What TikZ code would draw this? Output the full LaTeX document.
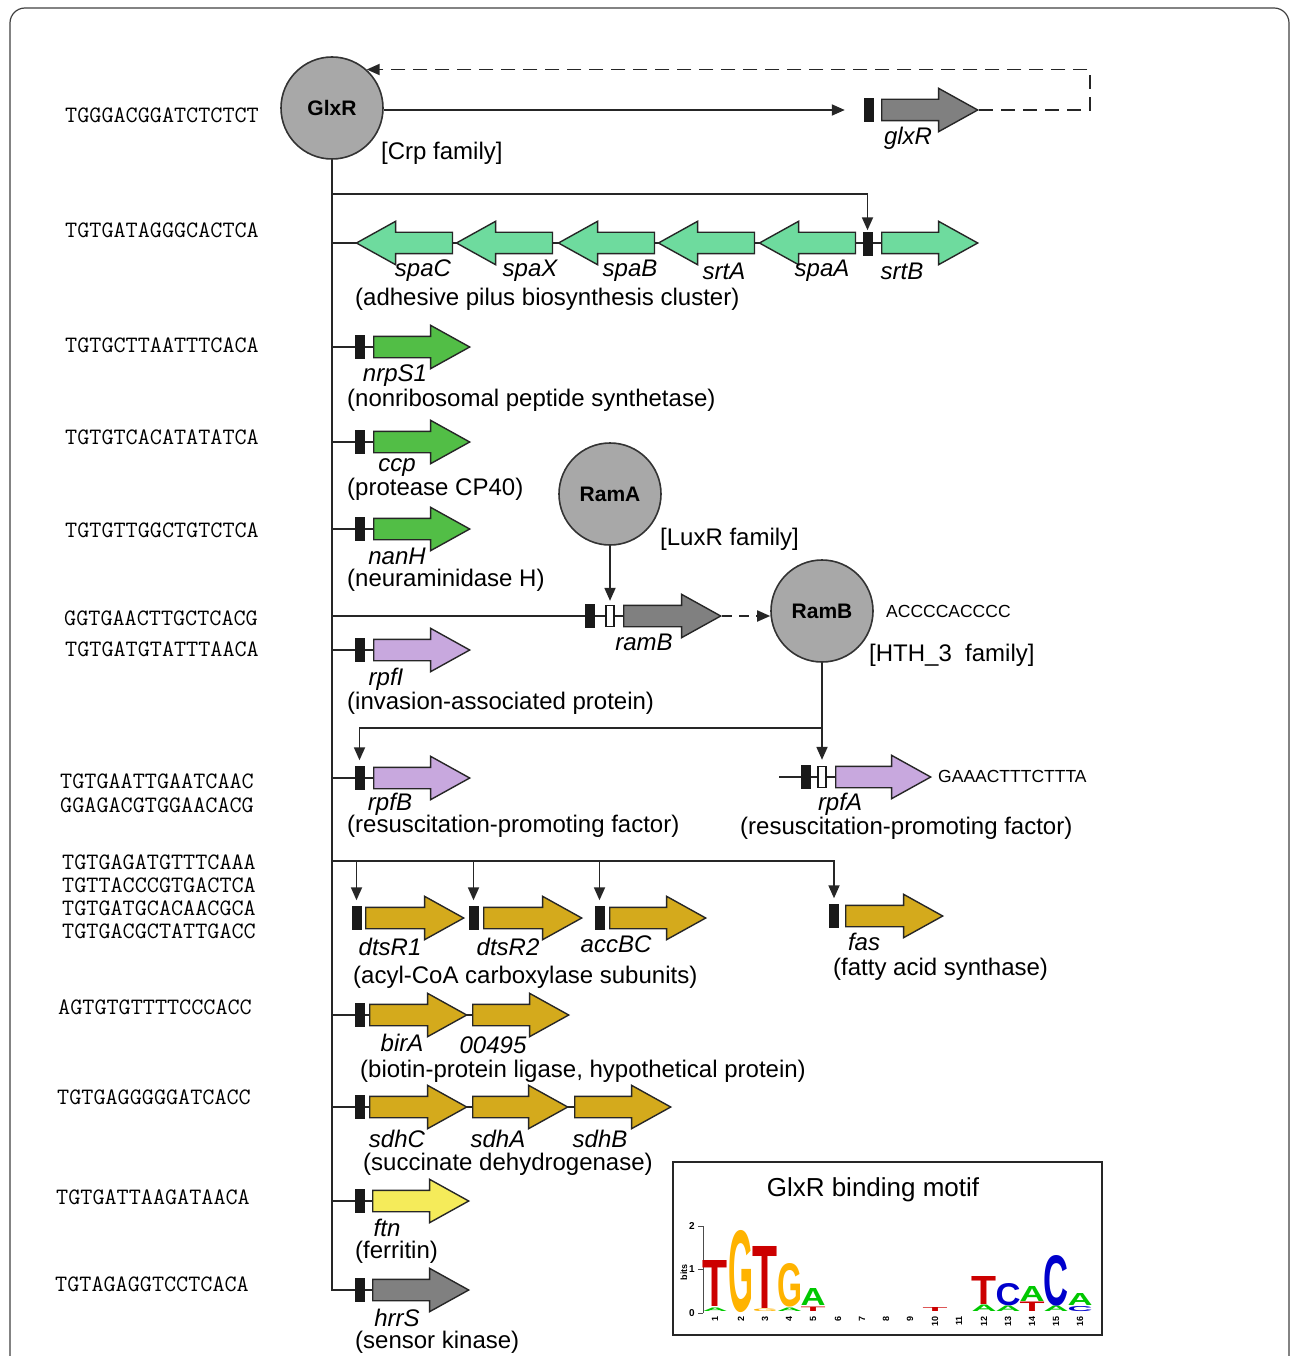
\documentclass[tikz,border=0pt]{standalone}
\usepackage{fontspec}
\setmainfont{Liberation Sans}
\usepackage{graphicx}
\usetikzlibrary{shapes.arrows,arrows.meta}
\pgfdeclarelayer{bg}
\pgfsetlayers{bg,main}
\definecolor{tfgray}{RGB}{168,168,168}
\definecolor{ggray}{RGB}{128,128,128}
\definecolor{mint}{RGB}{110,219,158}
\definecolor{lgreen}{RGB}{82,190,70}
\definecolor{purp}{RGB}{200,168,222}
\definecolor{gold}{RGB}{212,170,28}
\definecolor{yell}{RGB}{245,235,90}
\definecolor{lred}{RGB}{204,0,0}
\definecolor{lorange}{RGB}{255,179,0}
\definecolor{lgrn}{RGB}{0,200,0}
\definecolor{lblue}{RGB}{0,0,204}
\newcommand\logoL[6]{\node[inner sep=0pt,anchor=south,text=#6] (#1) at (#2,#3) {\resizebox{25pt}{#4pt}{\bfseries #5}};}
\begin{document}
\begin{tikzpicture}[x=1pt,y=-1pt,
  every node/.style={inner sep=0pt},
  lab/.style={font=\fontsize{24}{28}\selectfont},
  glab/.style={font=\fontsize{24}{28}\selectfont\itshape},
  seqt/.style={font=\fontsize{23.5}{26}\selectfont\ttfamily, anchor=west},
  sseq/.style={font=\fontsize{17.5}{20}\selectfont, anchor=west},
  tf/.style={circle, draw=black!80, line width=1.6pt, fill=tfgray, minimum size=102pt, font=\fontsize{21}{24}\selectfont\bfseries},
  gene/.style={single arrow, draw=black!85, line width=1.4pt, inner xsep=0pt, inner ysep=10pt, single arrow head extend=11pt, single arrow tip angle=58, minimum height=96pt, anchor=tail},
  lgene/.style={gene, shape border rotate=180, anchor=tip},
  pbox/.style={draw=black!90, fill=black!90, minimum width=9pt, minimum height=23pt},
  wbox/.style={draw=black!90, fill=white, line width=1.3pt, minimum width=8pt, minimum height=21pt},
  wire/.style={line width=1.8pt, draw=black!85},
  conn/.style={wire, -{Triangle[length=13pt,width=11pt]}},
  dconn/.style={conn, dash pattern=on 14pt off 8pt},
  frame/.style={line width=1.2pt, draw=black!75, rounded corners=15pt}
]
\useasboundingbox (0,0) rectangle (1290,1356);
\draw[frame] (10,1356) -- (10,8) -- (1289,8) -- (1289,1356);

% ---------------- GlxR ----------------
\node[tf] (glxr) at (332,108) {GlxR};
\node[lab,anchor=west] (crp) at (381,153) {[Crp family]};
\node[pbox] (glxRbox) at (868.5,110) {};
\node[gene, fill=ggray] (glxRgene) at (881,110) {};
\node[glab] (glxRlab) at (908,138) {glxR};
\coordinate (fb) at (1090,110);
\draw[conn, shorten >=19pt] (glxr.east |- glxRbox) -- (glxRbox.west);
\draw[dconn] (glxRgene.tip) -- (fb) |- (glxr.48);

% trunk
\node[pbox] (hrrSbox) at (359.5,1290) {};
\draw[wire] (glxr.south) |- (hrrSbox.west);

% ---------------- spa cluster ----------------
\node[pbox] (srtBbox) at (867.5,244) {};
\node[gene, fill=mint] (srtB) at (881,243) {};
\node[lgene, fill=mint] (spaA) at (758,243) {};
\node[lgene, fill=mint] (srtA) at (657,243) {};
\node[lgene, fill=mint] (spaB) at (557,243) {};
\node[lgene, fill=mint] (spaX) at (455,243) {};
\node[lgene, fill=mint] (spaC) at (355,243) {};
\begin{pgfonlayer}{bg}
\draw[wire] (glxr.south |- spaC) -- (srtB.tail);
\end{pgfonlayer}
\coordinate (b1) at (332,194);
\draw[conn, shorten >=2pt] (b1) -| (srtBbox.north);
\node[glab] (l-spaC) at (423,271) {spaC};
\node[glab] (l-spaX) at (530,271) {spaX};
\node[glab] (l-spaB) at (630,271) {spaB};
\node[glab] (l-srtA) at (724,271) {srtA};
\node[glab] (l-spaA) at (822,271) {spaA};
\node[glab] (l-srtB) at (902,271) {srtB};
\node[lab,anchor=west] (d-spa) at (355,299) {(adhesive pilus biosynthesis cluster)};

% ---------------- nrpS1 / ccp / nanH ----------------
\node[pbox] (nrpbox) at (359.5,347) {};
\node[gene, fill=lgreen] (nrpS1) at (373,347) {};
\node[pbox] (ccpbox) at (359.5,442) {};
\node[gene, fill=lgreen] (ccp) at (373,442) {};
\node[pbox] (nanbox) at (359.5,529) {};
\node[gene, fill=lgreen] (nanH) at (373,529) {};
\begin{pgfonlayer}{bg}
\draw[wire] (glxr.south |- nrpbox) -- (nrpS1.tail);
\draw[wire] (glxr.south |- ccpbox) -- (ccp.tail);
\draw[wire] (glxr.south |- nanbox) -- (nanH.tail);
\end{pgfonlayer}
\node[glab] (l-nrp) at (395,376) {nrpS1};
\node[lab,anchor=west] (d-nrp) at (347,400) {(nonribosomal peptide synthetase)};
\node[glab] (l-ccp) at (397,468) {ccp};
\node[lab,anchor=west] (d-ccp) at (347,489) {(protease CP40)};
\node[glab] (l-nan) at (397,556) {nanH};
\node[lab,anchor=west] (d-nan) at (347,580) {(neuraminidase H)};

% ---------------- RamA / ramB / RamB ----------------
\node[pbox] (rambbox) at (590,616) {};
\node[wbox] (rambw) at (610,616) {};
\node[gene, fill=ggray, minimum height=97pt] (rambgene) at (623,616) {};
\begin{pgfonlayer}{bg}
\draw[wire] (glxr.south |- rambbox) -- (rambgene.tail);
\end{pgfonlayer}
\node[glab] (l-ramb) at (644,642) {ramB};
\node[tf] (rama) at (610,494) {RamA};
\node[lab,anchor=west] (luxr) at (660,539) {[LuxR family]};
\draw[conn, shorten >=4pt] (rama.south) -- (rambw.north);
\node[tf] (ramb) at (822,611) {RamB};
\node[sseq] (s-ramb) at (886,611) {ACCCCACCCC};
\node[lab,anchor=west] (hth) at (869,655) {[HTH\_3\ \ family]};
\draw[conn, dash pattern=on 10pt off 7pt] (rambgene.tip) -- (rambgene.tip -| ramb.west);

% ---------------- rpfI ----------------
\node[pbox] (rpfIbox) at (359.5,650) {};
\node[gene, fill=purp] (rpfI) at (373,650) {};
\begin{pgfonlayer}{bg}
\draw[wire] (glxr.south |- rpfIbox) -- (rpfI.tail);
\end{pgfonlayer}
\node[glab] (l-rpfI) at (386,679) {rpfI};
\node[lab,anchor=west] (d-rpfI) at (347,703) {(invasion-associated protein)};

% ---------------- rpfB / rpfA ----------------
\node[pbox] (rpfBbox) at (359.5,778) {};
\node[gene, fill=purp] (rpfB) at (373,778) {};
\begin{pgfonlayer}{bg}
\draw[wire] (glxr.south |- rpfBbox) -- (rpfB.tail);
\end{pgfonlayer}
\node[glab] (l-rpfB) at (390,804) {rpfB};
\node[lab,anchor=west] (d-rpfB) at (347,826) {(resuscitation-promoting factor)};

\node[pbox] (rpfAbox) at (805.5,777) {};
\node[wbox] (rpfAw) at (822,777) {};
\node[gene, fill=purp, minimum height=95pt] (rpfA) at (835,777) {};
\coordinate (rpfAstart) at (779,777);
\begin{pgfonlayer}{bg}
\draw[wire] (rpfAstart) -- (rpfA.tail);
\end{pgfonlayer}
\node[sseq] (s-rpfA) at (938,776) {GAAACTTTCTTTA};
\node[glab] (l-rpfA) at (840,804) {rpfA};
\node[lab,anchor=west] (d-rpfA) at (740,828) {(resuscitation-promoting factor)};
\draw[conn, shorten >=6pt] (ramb.south) -- (rpfAw.north);
\coordinate (rbj) at (822,728);
\draw[conn, shorten >=6pt] (rbj) -| (rpfBbox.north);

% ---------------- dtsR1 / dtsR2 / accBC / fas ----------------
\node[pbox] (dts1box) at (356.5,918) {};
\node[gene, fill=gold, minimum height=98pt] (dtsR1) at (365,918) {};
\node[pbox] (dts2box) at (473.5,918) {};
\node[gene, fill=gold, minimum height=98pt] (dtsR2) at (483,918) {};
\node[pbox] (accbox) at (599.5,918) {};
\node[gene, fill=gold] (accBC) at (609,918) {};
\node[pbox] (fasbox) at (834,916) {};
\node[gene, fill=gold, minimum height=97pt] (fas) at (845,916) {};
\coordinate (b3) at (332,861);
\draw[conn, shorten >=6pt] (b3) -| (fasbox.north);
\draw[conn, shorten >=6pt] (dts1box.north |- b3) -- (dts1box.north);
\draw[conn, shorten >=6pt] (dts2box.north |- b3) -- (dts2box.north);
\draw[conn, shorten >=6pt] (accbox.north |- b3) -- (accbox.north);
\node[glab] (l-dts1) at (390,947) {dtsR1};
\node[glab] (l-dts2) at (508,947) {dtsR2};
\node[glab] (l-acc) at (616,944) {accBC};
\node[lab,anchor=west] (d-acc) at (353,977) {(acyl-CoA carboxylase subunits)};
\node[glab] (l-fas) at (864,942) {fas};
\node[lab,anchor=west] (d-fas) at (833,969) {(fatty acid synthase)};

% ---------------- birA / 00495 ----------------
\node[pbox] (birbox) at (359.5,1015) {};
\node[gene, fill=gold, minimum height=97pt] (birA) at (369,1015) {};
\node[gene, fill=gold] (g495) at (472,1015) {};
\begin{pgfonlayer}{bg}
\draw[wire] (glxr.south |- birbox) -- (g495.tail);
\end{pgfonlayer}
\node[glab] (l-bir) at (402,1043) {birA};
\node[glab] (l-495) at (493,1045) {00495};
\node[lab,anchor=west] (d-bir) at (360,1071) {(biotin-protein ligase, hypothetical protein)};

% ---------------- sdh ----------------
\node[pbox] (sdhbox) at (359.5,1107) {};
\node[gene, fill=gold, minimum height=97pt] (sdhC) at (369,1107) {};
\node[gene, fill=gold, minimum height=95pt] (sdhA) at (472,1107) {};
\node[gene, fill=gold] (sdhB) at (574,1107) {};
\begin{pgfonlayer}{bg}
\draw[wire] (glxr.south |- sdhbox) -- (sdhB.tail);
\end{pgfonlayer}
\node[glab] (l-sdhC) at (397,1139) {sdhC};
\node[glab] (l-sdhA) at (498,1139) {sdhA};
\node[glab] (l-sdhB) at (600,1139) {sdhB};
\node[lab,anchor=west] (d-sdh) at (363,1164) {(succinate dehydrogenase)};

% ---------------- ftn / hrrS ----------------
\node[pbox] (ftnbox) at (359.5,1201) {};
\node[gene, fill=yell] (ftn) at (372,1201) {};
\begin{pgfonlayer}{bg}
\draw[wire] (glxr.south |- ftnbox) -- (ftn.tail);
\end{pgfonlayer}
\node[glab] (l-ftn) at (387,1228) {ftn};
\node[lab,anchor=west] (d-ftn) at (355,1252) {(ferritin)};
\node[gene, fill=ggray] (hrrS) at (372,1290) {};
\begin{pgfonlayer}{bg}
\draw[wire] (hrrSbox.east) -- (hrrS.tail);
\end{pgfonlayer}
\node[glab] (l-hrrS) at (397,1318) {hrrS};
\node[lab,anchor=west] (d-hrrS) at (355,1342) {(sensor kinase)};

% ---------------- sequences ----------------
\node[seqt] (s1) at (65,115) {TGGGACGGATCTCTCT};
\node[seqt] (s2) at (65,230) {TGTGATAGGGCACTCA};
\node[seqt] (s3) at (65,345) {TGTGCTTAATTTCACA};
\node[seqt] (s4) at (65,437) {TGTGTCACATATATCA};
\node[seqt] (s5) at (65,530) {TGTGTTGGCTGTCTCA};
\node[seqt] (s6) at (64,618) {GGTGAACTTGCTCACG};
\node[seqt] (s7) at (65,649) {TGTGATGTATTTAACA};
\node[seqt] (s8) at (60,781) {TGTGAATTGAATCAAC};
\node[seqt] (s9) at (60,805) {GGAGACGTGGAACACG};
\node[seqt] (s10) at (62,862) {TGTGAGATGTTTCAAA};
\node[seqt] (s11) at (62,885) {TGTTACCCGTGACTCA};
\node[seqt] (s12) at (62,908) {TGTGATGCACAACGCA};
\node[seqt] (s13) at (62,931) {TGTGACGCTATTGACC};
\node[seqt] (s14) at (58,1007) {AGTGTGTTTTCCCACC};
\node[seqt] (s15) at (57,1097) {TGTGAGGGGGATCACC};
\node[seqt] (s16) at (56,1197) {TGTGATTAAGATAACA};
\node[seqt] (s17) at (55,1284) {TGTAGAGGTCCTCACA};

% ---------------- motif logo ----------------
\node[draw=black!85, line width=1.4pt, minimum width=429pt, minimum height=173pt] (motif) at (887.5,1248.5) {};
\node[font=\fontsize{26}{30}\selectfont] (mtitle) at (873,1190) {GlxR binding motif};
\draw[line width=1pt, black!70] (703,1226) -- (703,1313);
\draw[line width=1pt, black!70] (698,1226) -- (703,1226);
\draw[line width=1pt, black!70] (698,1269.5) -- (703,1269.5);
\draw[line width=1pt, black!70] (698,1313) -- (703,1313);
\node[font=\fontsize{10}{12}\selectfont\bfseries] (t2) at (692,1226) {2};
\node[font=\fontsize{10}{12}\selectfont\bfseries] (t1) at (692,1269) {1};
\node[font=\fontsize{10}{12}\selectfont\bfseries] (t0) at (692,1313) {0};
\node[font=\fontsize{9}{10}\selectfont\bfseries, rotate=90] (bits) at (684,1272) {bits};
\foreach \i/\xx in {1/715,2/741,3/765,4/789,5/813,6/838,7/862,8/886,9/910,10/935,11/959,12/984,13/1008,14/1032,15/1056,16/1080}{
  \node[font=\fontsize{9}{10}\selectfont\bfseries, rotate=90, anchor=east] (n\i) at (\xx,1316) {\i};
}
\logoL{a1}{715}{1311.5}{3.5}{A}{lgrn}
\logoL{T1}{715}{1307}{46}{T}{lred}
\logoL{G2}{741}{1313}{81}{G}{lorange}
\logoL{g3}{765}{1312}{2.5}{G}{lorange}
\logoL{T3}{765}{1309}{62}{T}{lred}
\logoL{a4}{789.5}{1311.5}{3.5}{A}{lgrn}
\logoL{G4}{789.5}{1307}{43}{G}{lorange}
\logoL{t5}{813}{1311.5}{4.5}{T}{lred}
\logoL{A5}{813}{1306}{17}{A}{lgrn}
\logoL{t10}{935}{1312}{4}{T}{lred}
\logoL{a12}{984}{1312}{6.5}{A}{lgrn}
\logoL{T12}{984}{1305}{28}{T}{lred}
\logoL{a13}{1008}{1312}{5.5}{A}{lgrn}
\logoL{C13}{1008}{1306}{22}{C}{lblue}
\logoL{t14}{1032}{1312}{9.5}{T}{lred}
\logoL{A14}{1032}{1302}{15}{A}{lgrn}
\logoL{a15}{1056}{1312}{5.5}{A}{lgrn}
\logoL{C15}{1056}{1306}{50}{C}{lblue}
\logoL{c16}{1080}{1311.5}{5}{C}{lblue}
\logoL{A16}{1080}{1306}{12}{A}{lgrn}
\end{tikzpicture}
\end{document}
